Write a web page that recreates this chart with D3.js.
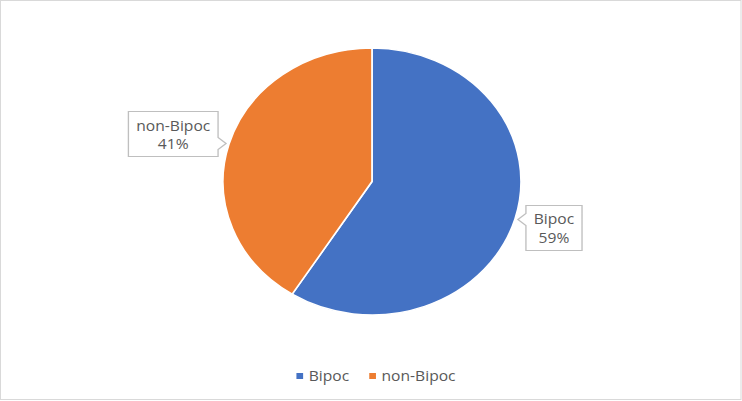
<!DOCTYPE html>
<html><head><meta charset="utf-8">
<script src="https://cdn.jsdelivr.net/npm/d3@7"></script>
<style>html,body{margin:0;padding:0;background:#fff;}svg{display:block;}</style>
</head><body>
<svg id="chart" width="742" height="401"></svg>
<script>
const categories = ["Bipoc", "non-Bipoc"];
const values = [59, 41];
const percentLabels = ["59%", "41%"];
const colors = ["#4472C4", "#ED7D31"];

const W = 742, H = 401;
const sx = 1.116; // horizontal stretch of the original picture
const svg = d3.select("#chart");
svg.append("rect").attr("x", 0.5).attr("y", 0.5).attr("width", W - 1.5).attr("height", H - 2)
  .attr("fill", "#fff").attr("stroke", "#d9d9d9").attr("stroke-width", 1);

const g = svg.append("g").attr("transform", `scale(${sx},1)`);
const LW = W / sx;
const cx = 372 / sx, cy = 181.5, r = 133.5;
const font = "'Open Sans', sans-serif";

const pie = d3.pie().sort(null).value(d => d.v);
const arcs = pie(categories.map((c, i) => ({c, v: values[i], p: percentLabels[i], col: colors[i]})));
const arc = d3.arc().innerRadius(0).outerRadius(r);

const pg = g.append("g").attr("transform", `translate(${cx},${cy})`);
pg.selectAll("path").data(arcs).join("path")
  .attr("d", arc).attr("fill", d => d.data.col)
  .attr("stroke", "#fff").attr("stroke-width", 1.5).attr("stroke-linejoin", "round");

// callouts
const layout = {"Bipoc": {side: 1, top: -14}, "non-Bipoc": {side: -1, top: -32}};
const boxH = 45, gap = 8 / sx, padX = 7, notch = 6;
arcs.forEach(d => {
  const a = (d.startAngle + d.endAngle) / 2;
  const tx = cx + Math.sin(a) * r * 1.02, ty = cy - Math.cos(a) * r * 1.02;
  const L = layout[d.data.c];
  const lg = g.append("g");
  const t1 = lg.append("text").text(d.data.c);
  const t2 = lg.append("text").text(d.data.p);
  lg.selectAll("text").attr("font-family", font).attr("font-size", 14).attr("fill", "#595959").attr("text-anchor", "middle");
  const tw = Math.max(t1.node().getComputedTextLength(), t2.node().getComputedTextLength());
  const bw = tw + padX * 2;
  const top = ty + L.top, bot = top + boxH;
  let x0, x1, pts;
  if (L.side < 0) {
    x1 = tx - gap; x0 = x1 - bw;
    pts = [[x0, top], [x1, top], [x1, ty - notch], [tx, ty], [x1, ty + notch], [x1, bot], [x0, bot]];
  } else {
    x0 = tx + gap; x1 = x0 + bw;
    pts = [[x0, top], [x1, top], [x1, bot], [x0, bot], [x0, ty + notch], [tx, ty], [x0, ty - notch]];
  }
  lg.insert("path", "text").attr("d", d3.line()(pts) + "Z")
    .attr("fill", "#fff").attr("stroke", "#bfbfbf").attr("stroke-width", 1.2);
  const mx = (x0 + x1) / 2;
  t1.attr("x", mx).attr("y", top + 19);
  t2.attr("x", mx).attr("y", top + 38);
});

// legend
const leg = g.append("g");
const items = categories.map((c, i) => {
  const it = leg.append("g");
  it.append("rect").attr("width", 6).attr("height", 6).attr("y", 373).attr("fill", colors[i]);
  const t = it.append("text").text(c).attr("font-family", font).attr("font-size", 14).attr("fill", "#595959").attr("y", 381);
  return {it, t, w: 6 + 5 + t.node().getComputedTextLength()};
});
const itemGap = 18;
const total = d3.sum(items, d => d.w) + itemGap * (items.length - 1);
let x = 376 / sx - total / 2;
items.forEach(d => {
  d.it.select("rect").attr("x", x);
  d.t.attr("x", x + 11);
  x += d.w + itemGap;
});
</script>
</body></html>
